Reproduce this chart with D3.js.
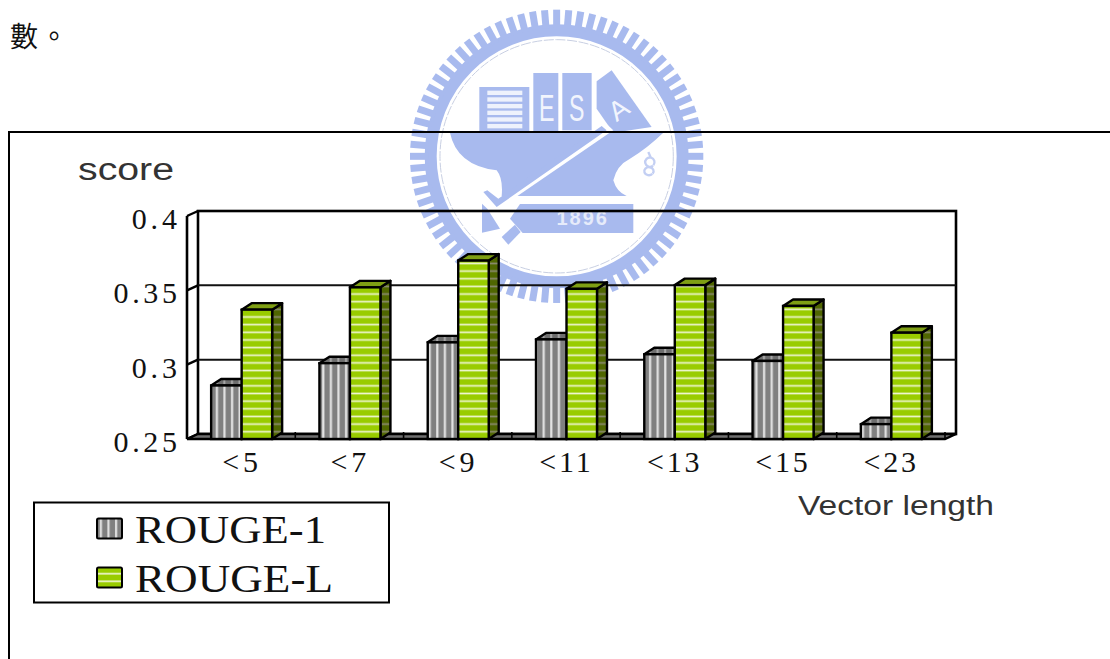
<!DOCTYPE html>
<html>
<head>
<meta charset="utf-8">
<script src="https://cdn.jsdelivr.net/npm/d3@7"></script>
<style>
html,body{margin:0;padding:0;background:#fff;overflow:hidden}
svg{display:block}
</style>
</head>
<body>
<svg id="chart" width="1110" height="659"></svg>
<script>
// Chart data
const categories = ["<5", "<7", "<9", "<11", "<13", "<15", "<23"];
const rouge1 = [0.286, 0.301, 0.315, 0.317, 0.307, 0.3025, 0.26];
const rougeL = [0.337, 0.352, 0.37, 0.351, 0.3535, 0.3395, 0.3215];
const yTicks = [0.25, 0.3, 0.35, 0.4];
const seriesNames = ["ROUGE-1", "ROUGE-L"];

const svg = d3.select("#chart");
const defs = svg.append("defs");

// Striped fills for the bar faces
function stripes(id, vertical, base, light, period, lightSize, offset) {
  const p = defs.append("pattern").attr("id", id).attr("patternUnits", "userSpaceOnUse")
    .attr("width", vertical ? period : 8).attr("height", vertical ? 8 : period);
  p.append("rect").attr("width", vertical ? period : 8).attr("height", vertical ? 8 : period).attr("fill", base);
  if (vertical) p.append("rect").attr("x", offset).attr("width", lightSize).attr("height", 8).attr("fill", light);
  else p.append("rect").attr("y", offset).attr("width", 8).attr("height", lightSize).attr("fill", light);
}
stripes("greyFront", true, "#808080", "#e4e4e4", 7.6, 2.2, 3);
stripes("greyTop", true, "#6e6e6e", "#a8a8a8", 7.6, 2, 3);
stripes("greenFront", false, "#99cc00", "#eef5cf", 7.65, 1.7, 2.5);
stripes("greenSide", false, "#4f6600", "#8a8a70", 7.65, 1.7, 2.5);
stripes("swatchGrey", true, "#808080", "#e0e0e0", 7.6, 2.2, 1);
stripes("swatchGreen", false, "#99cc00", "#eef5cf", 7.65, 1.7, 3);

// Watermark seal behind the chart
const seal = svg.append("g").attr("transform", "translate(400,2) scale(0.3333)");
const sealBlue = "#a8baee";
const cx = 470, cy = 463;
seal.append("circle").attr("cx", cx).attr("cy", cy).attr("r", 378)
  .attr("fill", "none").attr("stroke", sealBlue).attr("stroke-width", 36);
seal.selectAll("line.tooth").data(d3.range(76)).join("line").attr("class", "tooth")
  .attr("x1", i => cx + 385 * Math.cos(i / 76 * 2 * Math.PI))
  .attr("y1", i => cy + 385 * Math.sin(i / 76 * 2 * Math.PI))
  .attr("x2", i => cx + 440 * Math.cos(i / 76 * 2 * Math.PI))
  .attr("y2", i => cy + 440 * Math.sin(i / 76 * 2 * Math.PI))
  .attr("stroke", sealBlue).attr("stroke-width", 21);
seal.append("circle").attr("cx", cx).attr("cy", cy).attr("r", 350)
  .attr("fill", "none").attr("stroke", "#c8cfe2").attr("stroke-width", 3).attr("stroke-dasharray", "30 5");
seal.append("rect").attr("x", 238).attr("y", 255).attr("width", 150).attr("height", 137).attr("fill", sealBlue);
seal.selectAll("rect.page").data(d3.range(6)).join("rect").attr("class", "page")
  .attr("x", 262).attr("y", i => 266 + i * 20).attr("width", 105).attr("height", 13).attr("fill", "#eef2fc");
seal.append("rect").attr("x", 400).attr("y", 213).attr("width", 75).attr("height", 180).attr("fill", sealBlue);
seal.append("rect").attr("x", 487).attr("y", 213).attr("width", 88).attr("height", 172).attr("fill", sealBlue);
seal.append("path").attr("fill", sealBlue).attr("d", "M590 238L635 205L755 375L640 392L590 320Z");
seal.append("path").attr("fill", sealBlue)
  .attr("d", "M150 392L790 392Q740 440 690 470Q650 490 640 535Q650 570 680 582L400 582L305 582Q310 530 290 505Q170 490 150 392Z");
seal.append("path").attr("fill", "#fff").attr("d", "M622 368L640 385L305 615L285 600Z");
seal.append("path").attr("fill", sealBlue).attr("d", "M250 570L290 615L620 385L605 372L295 590L262 565Z");
seal.append("path").attr("fill", sealBlue).attr("d", "M360 606L700 606L700 693L368 693L330 650Z");
seal.append("path").attr("fill", sealBlue).attr("d", "M246 605L262 620L300 680L246 692Z");
seal.append("path").attr("fill", sealBlue).attr("d", "M305 705L345 668L362 690L325 728Z");
const sealText = [["E", 440, 358, 112], ["S", 530, 358, 112]];
seal.selectAll("text.letter").data(sealText).join("text").attr("class", "letter")
  .attr("transform", d => `translate(${d[1]},${d[2]}) scale(0.62,1)`).attr("font-size", d => d[3])
  .attr("text-anchor", "middle").attr("fill", "#f2f5fd").attr("font-family", "Liberation Sans").text(d => d[0]);
seal.append("text").attr("transform", "translate(672,345) rotate(-35)").attr("font-size", 82)
  .attr("text-anchor", "middle").attr("fill", "#f2f5fd").attr("font-family", "Liberation Sans").text("A");
seal.append("text").attr("x", 548).attr("y", 668).attr("font-size", 60).attr("font-weight", "bold")
  .attr("text-anchor", "middle").attr("letter-spacing", 6).attr("fill", "#e6ebfa").attr("font-family", "Liberation Sans").text("1896");
seal.append("path").attr("fill", "none").attr("stroke", "#c3cff3").attr("stroke-width", 7)
  .attr("d", "M745 450l8 18M760 490a14 14 0 1 0 -1 1M758 515a14 12 0 1 0 -1 1");

// Line of body text above the figure
svg.append("text").attr("x", 10).attr("y", 47).attr("font-size", 28).attr("letter-spacing", 2)
  .attr("font-family", "'Noto Sans CJK TC'").attr("fill", "#111").text("數。");

// Figure frame, cropped by the page edge
svg.append("path").attr("fill", "none").attr("stroke", "#000").attr("stroke-width", 2)
  .attr("d", "M9 659V132H1110");

// Scales: the front plane of the 3D box, with a fixed depth offset to the back wall
const x = d3.scaleBand().domain(categories).range([187, 945]);
const y = d3.scaleLinear().domain([0.25, 0.4]).range([439, 216]);
const wallDx = 11, wallDy = 5;
const barDx = 10, barDy = 6.5;
const barW = 30.5;

const chart = svg.append("g");

// Back wall and gridlines
chart.append("rect").attr("x", x.range()[0] + wallDx).attr("y", y(0.4) - wallDy)
  .attr("width", x.range()[1] - x.range()[0]).attr("height", y(0.25) - y(0.4))
  .attr("fill", "none").attr("stroke", "#000").attr("stroke-width", 2.6);
chart.selectAll("line.grid").data(yTicks.slice(1, 3)).join("line").attr("class", "grid")
  .attr("x1", x.range()[0] + wallDx).attr("x2", x.range()[1] + wallDx)
  .attr("y1", d => y(d) - wallDy).attr("y2", d => y(d) - wallDy)
  .attr("stroke", "#111").attr("stroke-width", 2);

// Side wall with tick connectors
chart.selectAll("line.wallTick").data(yTicks).join("line").attr("class", "wallTick")
  .attr("x1", x.range()[0]).attr("x2", x.range()[0] + wallDx)
  .attr("y1", d => y(d)).attr("y2", d => y(d) - wallDy)
  .attr("stroke", "#000").attr("stroke-width", 2.4);
chart.append("line").attr("x1", x.range()[0]).attr("x2", x.range()[0])
  .attr("y1", y(0.4)).attr("y2", y(0.25)).attr("stroke", "#000").attr("stroke-width", 2.6);

// Floor
chart.append("path").attr("fill", "#707070").attr("stroke", "#000").attr("stroke-width", 2.4)
  .attr("d", d3.line()([
    [x.range()[0], y(0.25)],
    [x.range()[0] + wallDx, y(0.25) - wallDy],
    [x.range()[1] + wallDx, y(0.25) - wallDy],
    [x.range()[1], y(0.25)]
  ]) + "Z");
chart.selectAll("line.floorTick").data(d3.range(categories.length + 1)).join("line").attr("class", "floorTick")
  .attr("x1", i => x.range()[0] + i * x.step()).attr("x2", i => x.range()[0] + i * x.step())
  .attr("y1", y(0.25) - 7).attr("y2", y(0.25))
  .attr("stroke", "#000").attr("stroke-width", 1.6);

// Each bar is a prism: side, top and front faces
function drawBars(values, x0, frontFill, topFill, sideFill) {
  const g = chart.append("g").selectAll("g").data(values).join("g");
  const left = (d, i) => x(categories[i]) + x.bandwidth() / 2 + x0;
  g.append("path")
    .attr("d", (d, i) => {
      const l = left(d, i) + barW, t = y(d), b = y(0.25);
      return d3.line()([[l, t], [l + barDx, t - barDy], [l + barDx, b - barDy], [l, b]]) + "Z";
    })
    .attr("fill", sideFill).attr("stroke", "#000").attr("stroke-width", 2.4).attr("stroke-linejoin", "round");
  g.append("path")
    .attr("d", (d, i) => {
      const l = left(d, i), t = y(d);
      return d3.line()([[l, t], [l + barDx, t - barDy], [l + barW + barDx, t - barDy], [l + barW, t]]) + "Z";
    })
    .attr("fill", topFill).attr("stroke", "#000").attr("stroke-width", 2.4).attr("stroke-linejoin", "round");
  g.append("rect")
    .attr("x", (d, i) => left(d, i)).attr("y", d => y(d))
    .attr("width", barW).attr("height", d => y(0.25) - y(d))
    .attr("fill", frontFill).attr("stroke", "#000").attr("stroke-width", 2.4);
}
drawBars(rouge1, -barW + 0.5, "url(#greyFront)", "url(#greyTop)", "url(#greyFront)");
drawBars(rougeL, 0.5, "url(#greenFront)", "#7f9f14", "url(#greenSide)");

// Tick labels use open letter spacing
function spaceLabels(sel, factor) {
  sel.attr("font-family", "'Liberation Serif'").attr("font-size", 30).attr("fill", "#111")
    .each(function () {
      d3.select(this).attr("textLength", this.getComputedTextLength() * factor)
        .attr("lengthAdjust", "spacing");
    });
}

// Value axis
const yAxis = d3.axisLeft(y).tickValues(yTicks).tickSize(0).tickPadding(10).tickFormat(d3.format("~g"));
const yG = chart.append("g").attr("transform", "translate(187,0)").call(yAxis);
yG.select(".domain").remove();
yG.selectAll("text").attr("dy", "12.5px");
spaceLabels(yG.selectAll("text"), 1.21);

// Category axis
const xAxis = d3.axisBottom(x).tickSize(0);
const xG = chart.append("g").attr("transform", "translate(0,439)").call(xAxis);
xG.select(".domain").remove();
xG.selectAll("text").attr("y", 33).attr("dy", 0).attr("dx", -1);
spaceLabels(xG.selectAll("text"), 1.12);

// Axis titles
svg.append("text").attr("x", 78).attr("y", 180).attr("font-size", 31)
  .attr("font-family", "'Liberation Sans'").attr("textLength", 96).attr("lengthAdjust", "spacingAndGlyphs")
  .attr("fill", "#333").text("score");
svg.append("text").attr("x", 798).attr("y", 515).attr("font-size", 27)
  .attr("font-family", "'Liberation Sans'").attr("textLength", 196).attr("lengthAdjust", "spacingAndGlyphs")
  .attr("fill", "#333").text("Vector length");

// Legend
const legend = svg.append("g");
legend.append("rect").attr("x", 34).attr("y", 502.5).attr("width", 355).attr("height", 100)
  .attr("fill", "#fff").attr("stroke", "#000").attr("stroke-width", 2);
const legendFills = ["url(#swatchGrey)", "url(#swatchGreen)"];
const legendRow = d3.scalePoint().domain(seriesNames).range([528.5, 577.5]);
const row = legend.selectAll("g").data(seriesNames).join("g")
  .attr("transform", d => `translate(0,${legendRow(d)})`);
row.append("rect").attr("x", 97).attr("y", -10).attr("width", 25).attr("height", 20)
  .attr("rx", 1.5).attr("fill", (d, i) => legendFills[i]).attr("stroke", "#000").attr("stroke-width", 2);
row.append("text").attr("x", 135).attr("y", 14).attr("font-size", 40)
  .attr("font-family", "'Liberation Serif'").attr("fill", "#111")
  .attr("textLength", (d, i) => [191, 198][i]).attr("lengthAdjust", "spacingAndGlyphs").text(d => d);
</script>
</body>
</html>
